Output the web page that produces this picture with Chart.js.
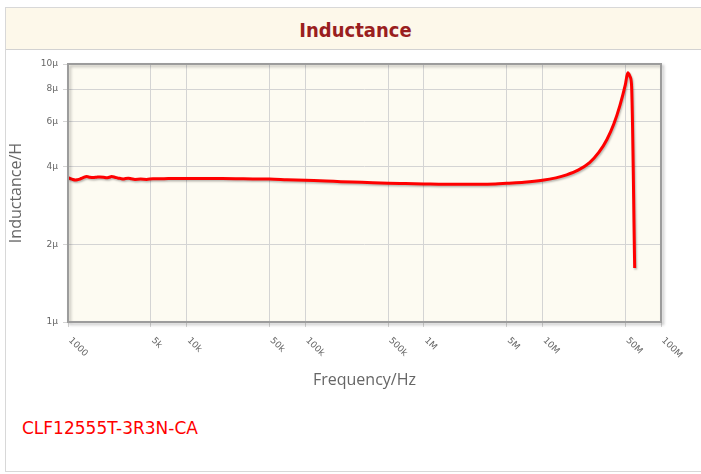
<!DOCTYPE html>
<html><head><meta charset="utf-8">
<script src="https://cdn.jsdelivr.net/npm/chart.js@4/dist/chart.umd.min.js"></script>
<style>
html,body{margin:0;padding:0;width:701px;height:474px;overflow:hidden;background:#fff;}
#frame{position:absolute;left:5px;top:7px;width:720px;height:465px;border:1px solid #d8d8d8;box-sizing:border-box;}
#band{position:absolute;left:6px;top:8px;width:720px;height:42px;background:#fdf8ea;border-bottom:1px solid #d2d2d2;box-sizing:border-box;}
#title{position:absolute;left:0;width:711px;top:18px;text-align:center;font:bold 20px "DejaVu Sans Condensed","DejaVu Sans",sans-serif;font-stretch:condensed;color:#9a1f1f;line-height:24px;}
#part{position:absolute;left:22px;top:418px;font:17px "DejaVu Sans",sans-serif;color:#ff0000;}
canvas{position:absolute;left:0;top:0;}
</style></head>
<body>
<div id="frame"></div>
<div id="band"></div>
<div id="title">Inductance</div>
<div id="part">CLF12555T-3R3N-CA</div>
<canvas id="c" width="701" height="474"></canvas>
<script>
const freqHz = [1000,1040,1090,1150,1200,1260,1330,1440,1530,1630,1740,1860,1990,2120,2230,2330,2480,2650,2780,2920,3060,3220,3420,3670,4100,4600,5200,5960,7000,8000,10000,15000,20000,30000,50000,70000,100000,150000,200000,300000,500000,700000,1000000,1500000,2000000,3000000,4000000,5000000,7000000,10000000,13000000,16000000,20000000,25000000,30000000,35000000,40000000,45000000,50000000,52500000,55000000,56500000,60000000];
const inductanceMicroH = [3.62,3.60,3.57,3.55,3.56,3.58,3.62,3.66,3.64,3.63,3.64,3.65,3.64,3.62,3.64,3.66,3.64,3.61,3.60,3.58,3.60,3.61,3.59,3.57,3.58,3.57,3.59,3.59,3.60,3.60,3.60,3.60,3.60,3.59,3.58,3.56,3.54,3.52,3.50,3.48,3.45,3.44,3.43,3.42,3.42,3.42,3.43,3.45,3.48,3.54,3.62,3.72,3.88,4.15,4.55,5.1,5.85,6.9,8.3,9.25,8.9,8.2,1.62];
const xTickValues = [1e3,5e3,1e4,5e4,1e5,5e5,1e6,5e6,1e7,5e7,1e8];
const xTickLabels = ['1000','5k','10k','50k','100k','500k','1M','5M','10M','50M','100M'];
const yTickValues = [1,2,4,6,8,10];
const yTickLabels = ['1µ','2µ','4µ','6µ','8µ','10µ'];

const points = freqHz.map((f,i)=>({x:f,y:inductanceMicroH[i]}));

const areaBg = {
  id:'areaBg',
  beforeDraw(chart){
    const {ctx,chartArea:a}=chart;
    ctx.save();ctx.fillStyle='#fdfbf2';ctx.fillRect(a.left,a.top,a.right-a.left,a.bottom-a.top);ctx.restore();
  },
  beforeDatasetsDraw(chart){
    const ctx=chart.ctx;ctx.save();
    ctx.shadowColor='rgba(0,0,0,0.28)';ctx.shadowOffsetX=1;ctx.shadowOffsetY=1.5;ctx.shadowBlur=2;
  },
  afterDatasetsDraw(chart){
    const {ctx,chartArea:a}=chart;ctx.restore();
    ctx.save();
    ctx.shadowColor='rgba(0,0,0,0.25)';ctx.shadowOffsetX=2;ctx.shadowOffsetY=2;ctx.shadowBlur=3;
    ctx.strokeStyle='#9c9c9c';ctx.lineWidth=2;
    ctx.strokeRect(a.left,a.top,a.right-a.left,a.bottom-a.top);
    ctx.restore();
  },
  afterDraw(chart){
    const {ctx,chartArea:a}=chart;const xs=chart.scales.x;
    ctx.save();ctx.fillStyle='#666';ctx.font='9px "DejaVu Sans", sans-serif';
    ctx.textAlign='left';ctx.textBaseline='middle';
    xTickValues.forEach((v,i)=>{
      const px=xs.getPixelForValue(v);
      ctx.save();ctx.translate(px+2,a.bottom+17);ctx.rotate(Math.PI/4);
      ctx.fillText(xTickLabels[i],0,0);ctx.restore();
    });
    ctx.restore();
  }
};

new Chart(document.getElementById('c'),{
  type:'line',
  data:{datasets:[{data:points,borderColor:'#ff0000',borderWidth:3,pointRadius:0,cubicInterpolationMode:'monotone',fill:false}]},
  options:{
    responsive:false,animation:false,
    layout:{padding:{top:64,right:40,bottom:0,left:0}},
    plugins:{legend:{display:false},tooltip:{enabled:false}},
    scales:{
      x:{type:'logarithmic',min:1e3,max:1e8,
        afterBuildTicks:s=>{s.ticks=xTickValues.map(v=>({value:v}));},
        afterFit:s=>{s.height=152;},
        ticks:{display:false},
        grid:{color:'#d4d4d4',lineWidth:1,tickLength:5},
        border:{display:false},
        title:{display:true,text:'Frequency/Hz',color:'#666',font:{family:'"Open Sans", sans-serif',size:16},padding:{top:0,bottom:84}}
      },
      y:{type:'logarithmic',min:1,max:10,
        afterBuildTicks:s=>{s.ticks=yTickValues.map(v=>({value:v}));},
        afterFit:s=>{s.width=68;},
        ticks:{color:'#666',font:{family:'"DejaVu Sans", sans-serif',size:9},padding:5,
          callback:(v)=>{const i=yTickValues.indexOf(v);return i>=0?yTickLabels[i]:'';}},
        grid:{color:'#d4d4d4',lineWidth:1,tickLength:5},
        border:{display:false},
        title:{display:true,text:'Inductance/H',color:'#666',font:{family:'"Open Sans", sans-serif',size:16},padding:{top:7,bottom:0}}
      }
    }
  },
  plugins:[areaBg]
});
</script>
</body></html>
